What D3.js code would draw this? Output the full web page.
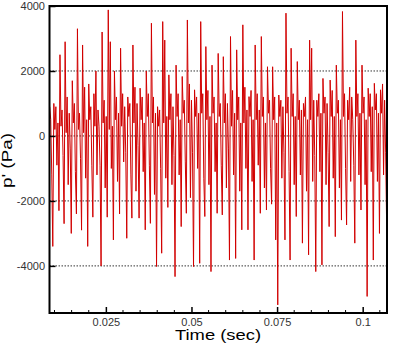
<!DOCTYPE html>
<html>
<head>
<meta charset="utf-8">
<script src="https://cdn.jsdelivr.net/npm/d3@7"></script>
<style>
  body { margin: 0; background: #fff; }
  svg { display: block; font-family: "Liberation Sans", Arial, sans-serif; }
</style>
</head>
<body>
<div id="chart"></div>
<script>
const startTime = 0.0086;
const sampleStep = 0.0003;
const pressure = [
  900, 500, -1200,
  -3400, 1000, 200, 900, -900, 400,
  -2300, 2500, 300, 800, -600,
  -2700, 2900, 100, 1200, -1500, 700, -400,
  -3000, 1700, 400, 1000, -1100,
  -2400, 3300, 200, 700, -700,
  -2900, 2800, 100, 1500, -1300, 500,
  -3400, 1600, 500, 900, -900,
  -2500, 1300, 300, 2000, -1200, 800, 300, -900,
  -4000, 3200, 400, 1100, -1600, 600,
  -2500, 3880, 200, 2900, -1000, 300,
  -3200, 2000, 500, 1200, -1400, 700,
  -2400, 2700, 300, 1300, -800, 900, -500,
  -3150, 1200, 600, 1000, -1200,
  -2530, 2800, 400, 1500, -1700, 1000, -300,
  -2530, 1470, 500, 1200, -1100, 400,
  -2890, 2000, 600, 1300, -900,
  -2690, 3470, 400, 1200, -1800, 700,
  -4020, 900, 300, 800, -1000,
  -3610, 3520, 400, 2950, -1300, 600,
  -2200, 1880, 500, 1300, -1500, 900, -600,
  -4330, 2180, 600, 1300, -1200, 500,
  -2790, 1830, 700, 1100, -800,
  -2380, 3570, 400, 1600, -1900, 1100, -500,
  -4020, 1420, 600, 1200, -1000, 700,
  -3920, 3520, 700, 1300, -1300,
  -2480, 2750, 500, 1400, -1500, 600,
  -4175, 2180, 700, 1200, -1100, 400,
  -2380, 2540, 600, 1000, -900,
  -2430, 2440, 400, 1300, -1600, 1000, -400,
  -3820, 3060, 300, 1400, -1200, 700,
  -3770, 2650, 500, 1200, -1700, 400,
  -2890, 3420, 400, 1500, -1000, 800,
  -2890, 1210, 600, 1400, -1400, 500,
  -3820, 2800, 500, 1300, -900, 800,
  -2380, 3060, 600, 1200, -1600, 400,
  -2280, 2130, 700, 1100, -1000,
  -2100, 2130, 500, 1200, -3200, 400,
  -5200, 1260, 600, 1100, -1300, 900, -500,
  -3200, 3780, 700, 1200, -1100,
  -3820, 2700, 600, 1300, -1500, 600,
  -2480, 2290, 500, 1100, -1200, 800,
  -3300, 1000, 600, 1200, -1700, 500,
  -3660, 2950, 500, 2700, -1400, 1100, -600,
  -4175, 1100, 600, 1300, -1100, 700,
  -3970, 1770, 700, 1200, -1500, 1000, -500,
  -2790, 1720, 600, 1400, -1300, 600,
  -3100, 2180, 700, 1100, -1600, 500,
  -2590, 3830, 600, 1300, -1000,
  -2740, 1100, 500, 1500, -1400, 1200, 500, -900,
  -3300, 2950, 600, 1300, -1200, 700,
  -2280, 2180, 700, 1200, -1500, 500,
  -4940, 1470, 600, 1300, -1100, 900,
  -3820, 1620, 800, 1300, -1400, 700,
  -3000, 1420, 700, 1600, -1200, 1100, -500,
  -2790
];

const xMajorTicks = [0.025, 0.05, 0.075, 0.1];
const xTickLabels = ["0.025", "0.05", "0.075", "0.1"];
const xMinorTicks = [0.01, 0.015, 0.02, 0.03, 0.035, 0.04, 0.045, 0.055, 0.06,
                     0.065, 0.07, 0.08, 0.085, 0.09, 0.095, 0.105];
const yTicks = [4000, 2000, 0, -2000, -4000];
const yTickLabels = ["4000", "2000", "0", "-2000", "-4000"];
const gridValues = [2000, 0, -2000, -4000];

const width = 394, height = 350;
const plot = { left: 49.5, right: 387, top: 6, bottom: 313 };

const x = d3.scaleLinear().domain([0.00854, 0.1071]).range([plot.left, plot.right]);
const y = d3.scaleLinear().domain([-5450, 4000]).range([plot.bottom, plot.top]);

const svg = d3.select('#chart')
  .append('svg')
  .attr('width', width)
  .attr('height', height);

svg.append('clipPath').attr('id', 'clip')
  .append('rect')
  .attr('x', plot.left).attr('y', plot.top)
  .attr('width', plot.right - plot.left)
  .attr('height', plot.bottom - plot.top);

// dotted grid
svg.append('g')
  .selectAll('line')
  .data(gridValues)
  .enter().append('line')
  .attr('x1', plot.left).attr('x2', plot.right)
  .attr('y1', d => y(d)).attr('y2', d => y(d))
  .attr('stroke', '#000')
  .attr('stroke-width', 0.8)
  .attr('stroke-dasharray', '1.5,1.5');

// signal
const line = d3.line()
  .x((d, i) => x(startTime + i * sampleStep))
  .y(d => y(d));

svg.append('path')
  .datum(pressure)
  .attr('clip-path', 'url(#clip)')
  .attr('fill', 'none')
  .attr('stroke', '#d10000')
  .attr('stroke-width', 1)
  .attr('d', line);

// x axis
const xAxis = d3.axisBottom(x)
  .tickValues(xMajorTicks)
  .tickFormat((d, i) => xTickLabels[i])
  .tickSize(-6)
  .tickPadding(5);

const gx = svg.append('g')
  .attr('transform', `translate(0,${plot.bottom})`)
  .call(xAxis);
gx.select('.domain').remove();
gx.selectAll('line').attr('stroke', '#000').attr('stroke-width', 1.5);
gx.selectAll('text').attr('font-size', 11).attr('fill', '#333')
  .attr('font-family', '"Liberation Sans", Arial, sans-serif');

svg.append('g')
  .selectAll('line')
  .data(xMinorTicks)
  .enter().append('line')
  .attr('x1', d => x(d)).attr('x2', d => x(d))
  .attr('y1', plot.bottom).attr('y2', plot.bottom - 3)
  .attr('stroke', '#000')
  .attr('stroke-width', 1);

// y axis
const yAxis = d3.axisLeft(y)
  .tickValues(yTicks)
  .tickFormat((d, i) => yTickLabels[i])
  .tickSize(-6)
  .tickPadding(4.5);

const gy = svg.append('g')
  .attr('transform', `translate(${plot.left},0)`)
  .call(yAxis);
gy.select('.domain').remove();
gy.selectAll('line').attr('stroke', '#000').attr('stroke-width', 1.5);
gy.selectAll('text').attr('font-size', 11).attr('fill', '#333')
  .attr('font-family', '"Liberation Sans", Arial, sans-serif');

// frame
svg.append('rect')
  .attr('x', plot.left).attr('y', plot.top)
  .attr('width', plot.right - plot.left)
  .attr('height', plot.bottom - plot.top)
  .attr('fill', 'none')
  .attr('stroke', '#000')
  .attr('stroke-width', 2);

// axis titles (wide lettering, stretched to the reference length)
svg.append('text')
  .attr('x', 218).attr('y', 340)
  .attr('text-anchor', 'middle')
  .attr('font-size', 14)
  .attr('textLength', 86)
  .attr('lengthAdjust', 'spacingAndGlyphs')
  .attr('fill', '#000')
  .text('Time (sec)');

svg.append('text')
  .attr('transform', 'translate(12,160.5) rotate(-90)')
  .attr('text-anchor', 'middle')
  .attr('font-size', 14)
  .attr('textLength', 55)
  .attr('lengthAdjust', 'spacingAndGlyphs')
  .attr('fill', '#000')
  .text("p' (Pa)");
</script>
</body>
</html>
